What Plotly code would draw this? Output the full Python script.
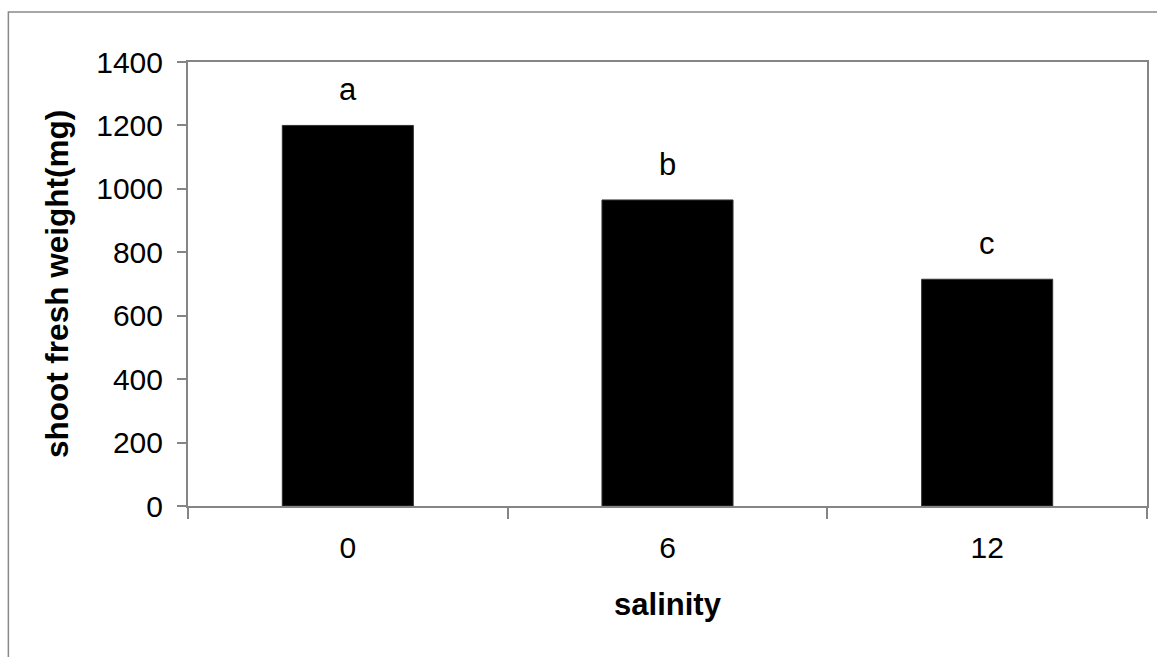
import plotly.graph_objects as go

# Shoot fresh weight by salinity level, with significance letters
salinity = ["0", "6", "12"]
fresh_weight = [1200, 965, 715]
letters = ["a", "b", "c"]

FONT = "Liberation Sans, Arial, sans-serif"
AXIS_GREY = "#858585"

W, H = 1157, 657
M = dict(l=188, r=8, t=62, b=151)
plot_w = W - M["l"] - M["r"]
plot_h = H - M["t"] - M["b"]

fig = go.Figure()
fig.add_trace(go.Bar(
    x=salinity,
    y=fresh_weight,
    marker=dict(color="black", line=dict(color="#333333", width=1)),
    width=0.41,
    showlegend=False,
))

# letters sit above each bar; category positions are given by index
for i, (val, lab) in enumerate(zip(fresh_weight, letters)):
    fig.add_annotation(
        x=i, y=val, text=lab, showarrow=False,
        yanchor="bottom", yshift=16,
        font=dict(family=FONT, size=31, color="black"),
    )

# outer chart-area frame (runs off the right and bottom edges)
def px_x(p):
    return (p - M["l"]) / plot_w

def px_y(p):
    return (H - M["b"] - p) / plot_h

fig.add_shape(
    type="rect", xref="paper", yref="paper",
    x0=px_x(8), x1=px_x(W + 5), y0=px_y(H + 5), y1=px_y(12),
    line=dict(color="#8a8a8a", width=1.5), fillcolor="rgba(0,0,0,0)",
    layer="below",
)

fig.update_layout(
    width=W, height=H, margin=M,
    paper_bgcolor="white", plot_bgcolor="white",
    font=dict(family=FONT, color="black"),
    xaxis=dict(
        type="category", range=[-0.5, len(salinity) - 0.5],
        showline=True, linecolor=AXIS_GREY, linewidth=2, mirror=True,
        ticks="outside", ticklen=11, tickwidth=1.5, tickcolor=AXIS_GREY,
        tickson="boundaries",
        tickfont=dict(family=FONT, size=30, color="black"),
        ticklabelstandoff=14,
        showgrid=False, zeroline=False,
        title=dict(text="<b>salinity</b>", font=dict(family=FONT, size=31, color="black"), standoff=30),
    ),
    yaxis=dict(
        range=[0, 1400], dtick=200,
        showline=True, linecolor=AXIS_GREY, linewidth=2, mirror=True,
        ticks="outside", ticklen=9, tickwidth=1.5, tickcolor=AXIS_GREY,
        tickfont=dict(family=FONT, size=30, color="black"),
        ticklabelstandoff=8,
        showgrid=False, zeroline=False,
        title=dict(text="<b>shoot fresh weight(mg)</b>", font=dict(family=FONT, size=31.5, color="black"), standoff=18),
    ),
)

fig.write_html("out.html")
